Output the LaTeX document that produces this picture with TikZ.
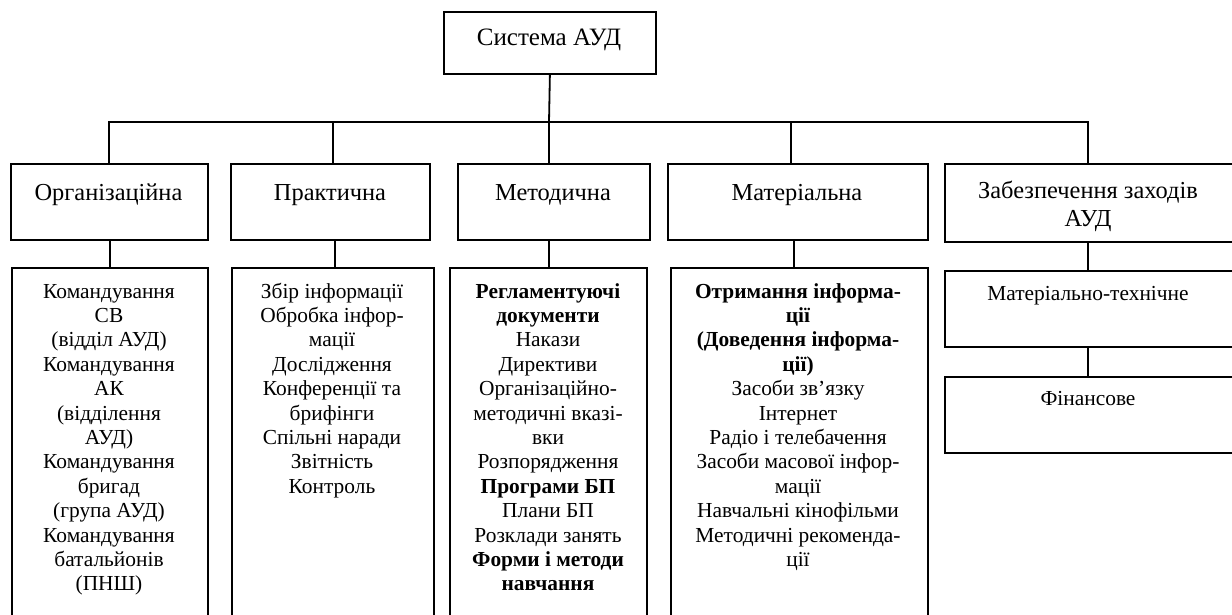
\documentclass[tikz,border=0pt]{standalone}
\usepackage{fontspec}
\setmainfont{Liberation Serif}
\newcommand{\lowfont}{\fontsize{21.4}{24.4}\selectfont}
\newcommand{\upfont}{\fontsize{24.4}{28}\selectfont}
\newcommand{\topfont}{\fontsize{25}{28}\selectfont}
\begin{document}
\begin{tikzpicture}[x=1pt,y=-1pt,
  box/.style={draw, line width=1.8pt, inner sep=0pt, anchor=north west},
  lbl/.style={anchor=north, inner sep=0pt, align=center},
  uplbl/.style={lbl, font=\upfont},
  lowlbl/.style={lbl, font=\lowfont},
  link/.style={line width=1.8pt}]
\useasboundingbox (0,0) rectangle (1232,614);
\clip (0,0) rectangle (1232,614);
% top
\node[box, minimum width=212, minimum height=62] (top) at (443,11) {};
\node[lbl, font=\topfont] (ttop) at (549,25.4) {\strut Система АУД};
% upper boxes
\node[box, minimum width=197, minimum height=76] (b1) at (10,163) {};
\node[box, minimum width=199, minimum height=76] (b2) at (230,163) {};
\node[box, minimum width=192, minimum height=76] (b3) at (457,163) {};
\node[box, minimum width=260, minimum height=76] (b4) at (667,163) {};
\node[box, minimum width=292, minimum height=78] (b5) at (944,163) {};
\node[uplbl] (tb1) at (108.5,180.4) {\strut Організаційна};
\node[uplbl] (tb2) at (330,180.4) {\strut Практична};
\node[uplbl] (tb3) at (553,180.4) {\strut Методична};
\node[uplbl] (tb4) at (797,180.4) {\strut Матеріальна};
\node[uplbl] (tb5) at (1088,178.4) {\strut Забезпечення заходів\\АУД};
% lower boxes
\node[box, minimum width=196, minimum height=360] (l1) at (11,267) {};
\node[box, minimum width=202, minimum height=360] (l2) at (231,267) {};
\node[box, minimum width=197, minimum height=360] (l3) at (449,267) {};
\node[box, minimum width=257, minimum height=360] (l4) at (670,267) {};
\node[box, minimum width=292, minimum height=76] (r1) at (944,270) {};
\node[box, minimum width=292, minimum height=76] (r2) at (944,376) {};
\node[lowlbl] (tl1) at (109,280.9) {\strut Командування\\СВ\\(відділ АУД)\\Командування\\АК\\(відділення\\АУД)\\Командування\\бригад\\(група АУД)\\Командування\\батальйонів\\(ПНШ)};
\node[lowlbl] (tl2) at (332,280.9) {\strut Збір інформації\\Обробка інфор-\\мації\\Дослідження\\Конференції та\\брифінги\\Спільні наради\\Звітність\\Контроль};
\node[lowlbl] (tl3) at (548,280.9) {\strut \textbf{Регламентуючі}\\\textbf{документи}\\Накази\\Директиви\\Організаційно-\\методичні вказі-\\вки\\Розпорядження\\\textbf{Програми БП}\\Плани БП\\Розклади занять\\\textbf{Форми і методи}\\\textbf{навчання}};
\node[lowlbl] (tl4) at (798,280.9) {\strut \textbf{Отримання інформа-}\\\textbf{ції}\\\textbf{(Доведення інформа-}\\\textbf{ції)}\\Засоби зв’язку\\Інтернет\\Радіо і телебачення\\Засоби масової інфор-\\мації\\Навчальні кінофільми\\Методичні рекоменда-\\ції};
\node[lowlbl] (tr1) at (1088,282.9) {\strut Матеріально-технічне};
\node[lowlbl] (tr2) at (1088,387.9) {\strut Фінансове};
% connectors
\coordinate (j1) at (109,122);
\coordinate (j2) at (333,122);
\coordinate (j3) at (549,122);
\coordinate (j4) at (791,122);
\coordinate (j5) at (1088,122);
\draw[link] (top.south) -- (j3);
\draw[link] (j1 |- b1.north) -- (j1) -- (j5) -- (j5 |- b5.north);
\draw[link] (j2) -- (j2 |- b2.north);
\draw[link] (j3) -- (j3 |- b3.north);
\draw[link] (j4) -- (j4 |- b4.north);
\coordinate (k1) at (110,250);
\coordinate (k2) at (335,250);
\coordinate (k3) at (549,250);
\coordinate (k4) at (794,250);
\coordinate (k5) at (1088,250);
\draw[link] (b1.south -| k1) -- (l1.north -| k1);
\draw[link] (b2.south -| k2) -- (l2.north -| k2);
\draw[link] (b3.south -| k3) -- (l3.north -| k3);
\draw[link] (b4.south -| k4) -- (l4.north -| k4);
\draw[link] (b5.south -| k5) -- (r1.north -| k5);
\draw[link] (r1.south -| k5) -- (r2.north -| k5);
\end{tikzpicture}
\end{document}
